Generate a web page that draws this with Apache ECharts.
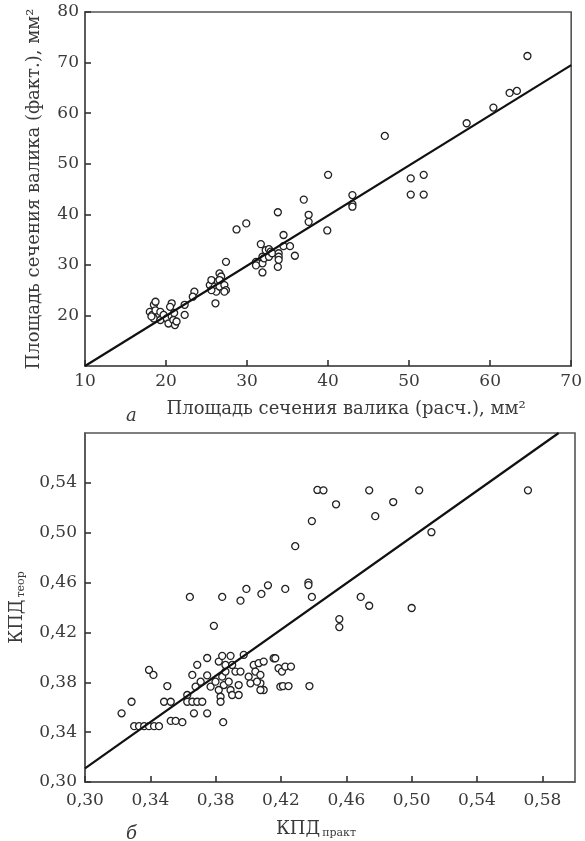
<!DOCTYPE html>
<html><head><meta charset="utf-8">
<script src="https://cdn.jsdelivr.net/npm/echarts@6/dist/echarts.min.js"></script>
<style>html,body{margin:0;padding:0;background:#fff}#c{width:585px;height:841px}</style>
</head><body><div id="c"></div>
<script>
// Chart a: cross-section area, calculated vs actual (mm²)
const topPoints = [
  [18.0,20.7],[18.3,20.1],[18.5,19.4],[18.5,22.1],[18.7,22.7],[18.7,21.0],[19.3,20.7],[19.3,19.1],
  [19.7,20.1],[20.1,19.4],[20.3,18.4],[20.7,22.4],[20.5,21.7],[20.7,19.8],[20.9,19.1],[21.1,18.1],
  [21.3,18.8],[21.0,20.5],[22.3,22.1],[22.3,20.1],[18.2,19.8],[23.5,24.7],[23.3,23.7],
  [25.4,26.0],[25.6,27.0],[26.0,25.7],[26.2,24.7],[26.4,26.7],[26.6,28.3],[26.6,25.7],[26.8,27.7],
  [27.2,26.0],[27.4,25.0],[27.2,24.7],[25.6,25.0],[26.1,22.4],[27.4,30.6],[26.6,27.0],
  [31.1,30.6],[31.3,30.3],[31.7,34.1],[31.9,31.6],[31.9,30.3],[31.9,28.5],[32.1,31.3],[32.3,32.9],
  [32.7,33.1],[32.7,31.6],[32.9,32.6],[33.1,32.3],[33.9,32.3],[33.9,31.6],[33.9,31.0],[33.8,29.6],
  [34.5,33.7],[34.5,35.9],[35.3,33.7],[35.9,31.8],[33.8,40.4],[31.1,29.9],
  [28.7,37.0],[29.9,38.2],[37.0,42.9],[37.6,39.9],[37.6,38.5],[40.0,47.8],[39.9,36.8],
  [43.0,43.8],[43.0,42.0],[43.0,41.5],[47.0,55.5],[50.2,47.1],[50.2,43.9],[51.8,47.8],[51.8,43.9],
  [57.1,58.0],[60.4,61.1],[62.4,64.0],[63.3,64.4],[64.6,71.3]
];
const topLine = [[10,10],[70,69.5]];
const topXTicks = {min:10, max:70, step:10};
const topYTicks = {min:10, max:80, step:10};

// Chart б: efficiency, practical vs theoretical
const botPoints = [
  [0.3224,0.3551],[0.3285,0.3644],[0.3301,0.3448],[0.3331,0.3448],[0.3362,0.3448],[0.3392,0.3448],
  [0.3423,0.3448],[0.3453,0.3448],[0.3392,0.3899],[0.3419,0.3859],[0.3504,0.3770],[0.3484,0.3644],
  [0.3525,0.3644],[0.3525,0.3490],[0.3555,0.3490],[0.3596,0.3480],
  [0.3626,0.3698],[0.3657,0.3859],[0.3687,0.3940],[0.3708,0.3805],[0.3677,0.3765],[0.3626,0.3644],
  [0.3657,0.3644],[0.3687,0.3644],[0.3718,0.3644],[0.3667,0.3551],[0.3748,0.3551],[0.3748,0.3855],
  [0.3748,0.3995],[0.3846,0.3480],
  [0.3769,0.3765],[0.3799,0.3805],[0.3819,0.3738],[0.3830,0.3684],[0.3830,0.3644],[0.3840,0.3845],
  [0.3850,0.3778],[0.3860,0.3886],[0.3819,0.3966],[0.3840,0.4012],[0.3860,0.3939],[0.3891,0.4012],
  [0.3901,0.3939],[0.3880,0.3805],[0.3921,0.3886],[0.3891,0.3738],[0.3901,0.3698],[0.3941,0.3698],
  [0.3941,0.3778],[0.3952,0.3886],[0.3972,0.4020],[0.4002,0.3845],[0.4013,0.3792],[0.4033,0.3939],
  [0.4043,0.3886],[0.4063,0.3953],[0.4074,0.3859],[0.4074,0.3792],[0.4094,0.3966],[0.4094,0.3738],
  [0.4074,0.3738],[0.4053,0.3805],[0.4155,0.3993],[0.4165,0.3993],[0.4185,0.3913],[0.4206,0.3886],
  [0.4226,0.3926],[0.4261,0.3926],[0.4196,0.3765],[0.4212,0.3770],[0.4246,0.3770],[0.4374,0.3770],
  [0.3642,0.4485],[0.3840,0.4485],[0.3952,0.4455],[0.3988,0.4549],[0.4080,0.4509],[0.4120,0.4578],
  [0.4226,0.4549],[0.3789,0.4253],[0.4287,0.4892],[0.4368,0.4600],[0.4368,0.4580],[0.4389,0.4485],
  [0.4389,0.5093],[0.4423,0.5343],[0.4460,0.5340],[0.4537,0.5228],[0.4557,0.4307],[0.4557,0.4243],
  [0.4688,0.4485],[0.4740,0.4414],[0.4740,0.5340],[0.4777,0.5133],[0.4887,0.5246],[0.5000,0.4396],
  [0.5046,0.5340],[0.5121,0.5004],[0.5712,0.5340]
];
const botLine = [[0.30,0.311],[0.59,0.58]];
const botXTicks = {min:0.30, max:0.60, step:0.04};
const botYTicks = {min:0.30, max:0.58, step:0.04};

const FONT = 'DejaVu Serif';
const TXT = '#3a3a3a';
const FRAME = '#555';
const fmtComma = v => v.toFixed(2).replace('.', ',');

function axisCommon(extra) {
  return Object.assign({
    type: 'value',
    axisLine: {show: true, lineStyle: {color: FRAME, width: 1.6}},
    axisTick: {show: true, inside: true, length: 6, lineStyle: {color: '#333', width: 1.6}},
    splitLine: {show: false},
    axisLabel: {color: TXT, fontFamily: FONT, fontSize: 17},
    nameLocation: 'middle',
    nameTextStyle: {color: TXT, fontFamily: FONT, fontSize: 18}
  }, extra);
}

const chart = echarts.init(document.getElementById('c'));
chart.setOption({
  animation: false,
  backgroundColor: '#fff',
  grid: [
    {left: 85, top: 12, width: 491, height: 354, show: true, borderColor: FRAME, borderWidth: 1.6, backgroundColor: 'transparent'},
    {left: 84, top: 433, width: 491, height: 349, show: true, borderColor: FRAME, borderWidth: 1.6, backgroundColor: 'transparent'}
  ],
  xAxis: [
    axisCommon({gridIndex: 0, min: topXTicks.min, max: topXTicks.max, interval: topXTicks.step,
      name: 'Площадь сечения валика (расч.), мм²', nameGap: 34,
      nameTextStyle: {color: TXT, fontFamily: FONT, fontSize: 18, padding: [0,0,0,36]},
      axisLabel: {color: TXT, fontFamily: FONT, fontSize: 17, margin: 7}}),
    axisCommon({gridIndex: 1, min: botXTicks.min, max: botXTicks.max, interval: botXTicks.step,
      name: '{m|КПД}{s|практ}', nameGap: 37,
      nameTextStyle: {color: TXT, fontFamily: FONT, fontSize: 18, padding: [0,28,0,0],
        rich: {m: {fontFamily: FONT, fontSize: 18, color: TXT}, s: {fontFamily: FONT, fontSize: 11, color: TXT, padding: [9,0,0,2]}}},
      axisLabel: {color: TXT, fontFamily: FONT, fontSize: 17, margin: 10, showMaxLabel: false, formatter: fmtComma}})
  ],
  yAxis: [
    axisCommon({gridIndex: 0, min: topYTicks.min, max: topYTicks.max, interval: topYTicks.step,
      name: 'Площадь сечения валика (факт.), мм²', nameGap: 42,
      axisLabel: {color: TXT, fontFamily: FONT, fontSize: 17, margin: 6, showMinLabel: false}}),
    axisCommon({gridIndex: 1, min: botYTicks.min, max: botYTicks.max, interval: botYTicks.step,
      name: '{m|КПД}{s|теор}', nameGap: 58,
      nameTextStyle: {color: TXT, fontFamily: FONT, fontSize: 18,
        rich: {m: {fontFamily: FONT, fontSize: 18, color: TXT}, s: {fontFamily: FONT, fontSize: 11, color: TXT, padding: [9,0,0,2]}}},
      axisLabel: {color: TXT, fontFamily: FONT, fontSize: 17, margin: 8, showMaxLabel: false, formatter: fmtComma}})
  ],
  title: [
    {text: 'а', left: 121, top: 402, textStyle: {fontFamily: FONT, fontStyle: 'italic', fontWeight: 'normal', fontSize: 18, color: TXT}},
    {text: 'б', left: 121, top: 820, textStyle: {fontFamily: FONT, fontStyle: 'italic', fontWeight: 'normal', fontSize: 18, color: TXT}}
  ],
  series: [
    {type: 'line', xAxisIndex: 0, yAxisIndex: 0, data: topLine, symbol: 'none',
      lineStyle: {color: '#111', width: 2.2}, z: 3},
    {type: 'scatter', xAxisIndex: 0, yAxisIndex: 0, data: topPoints, symbol: 'circle', symbolSize: 7,
      itemStyle: {color: '#fff', borderColor: '#222', borderWidth: 1.3, opacity: 1}, z: 2},
    {type: 'line', xAxisIndex: 1, yAxisIndex: 1, data: botLine, symbol: 'none',
      lineStyle: {color: '#111', width: 2.2}, z: 3},
    {type: 'scatter', xAxisIndex: 1, yAxisIndex: 1, data: botPoints, symbol: 'circle', symbolSize: 7,
      itemStyle: {color: '#fff', borderColor: '#222', borderWidth: 1.3, opacity: 1}, z: 2}
  ]
});
</script>
</body></html>
